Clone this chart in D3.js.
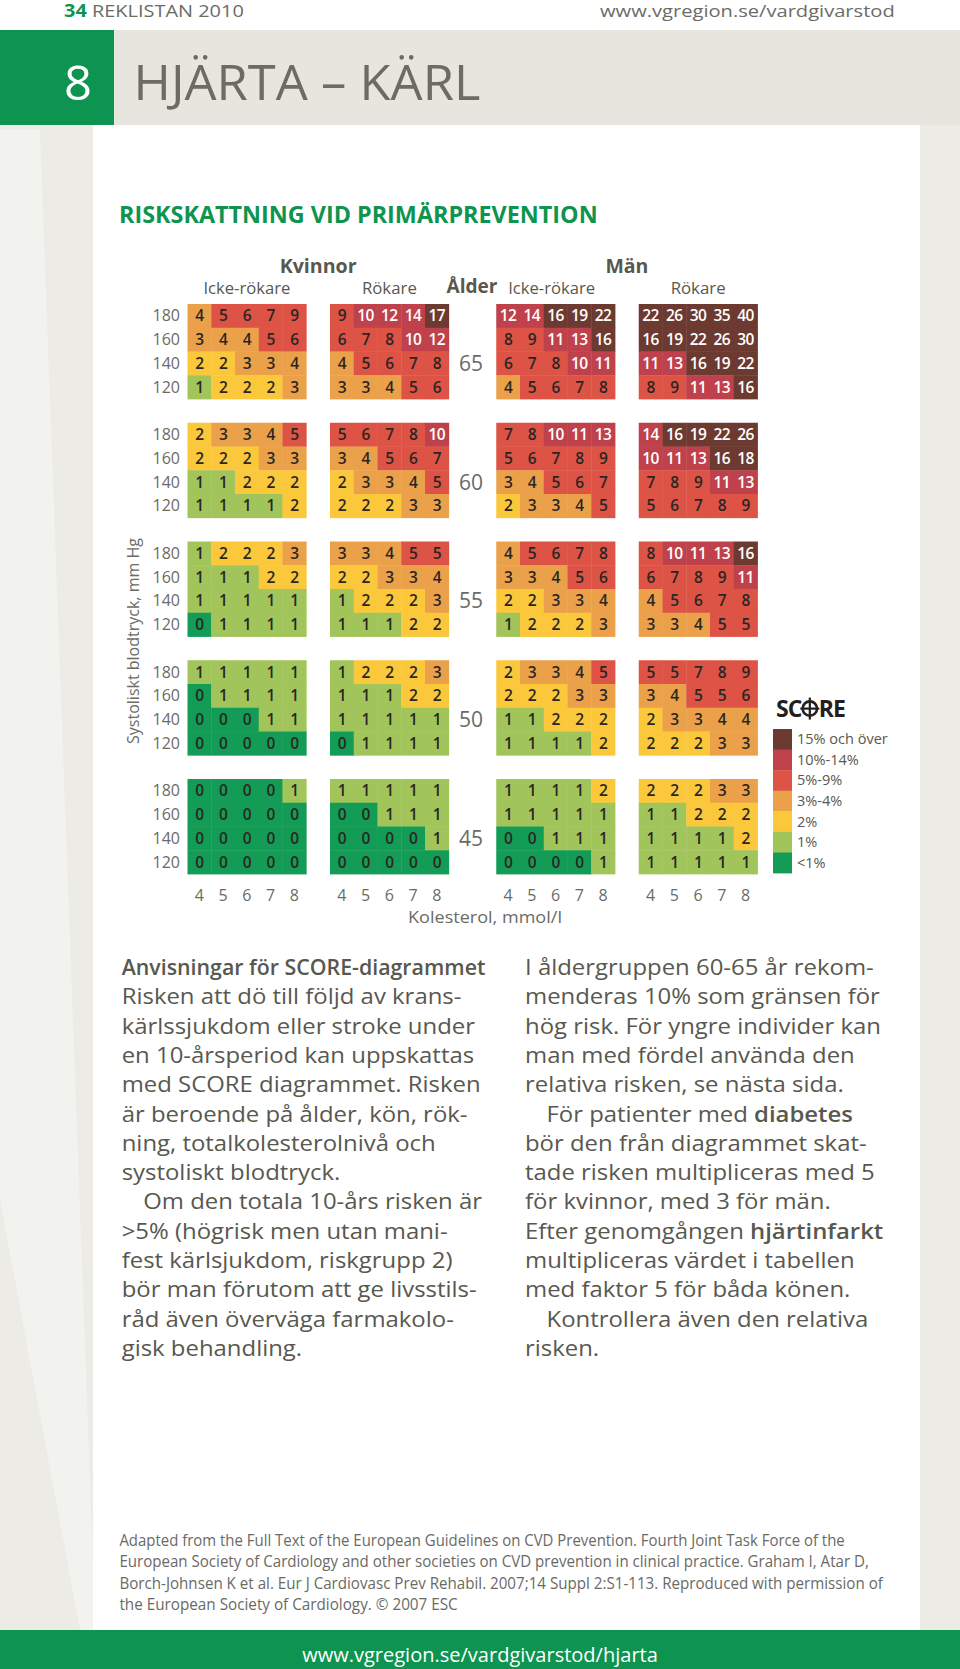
<!DOCTYPE html>
<html><head><meta charset="utf-8">
<script src="https://cdn.jsdelivr.net/npm/d3@7"></script>
<style>
body{margin:0;background:#fff}
svg{display:block}
text{font-family:"Open Sans","Noto Sans",sans-serif}
</style>
</head><body>
<svg id="c" width="960" height="1669"></svg>
<script>
// ---------------- DATA ----------------
const ages = [65, 60, 55, 50, 45];
const bloodPressure = [180, 160, 140, 120];
const cholesterol = [4, 5, 6, 7, 8];

// rows: systolic 180,160,140,120 ; columns: cholesterol 4..8 ; one block per age 65..45
const womenNonSmoker = [
  [[4,5,6,7,9],[3,4,4,5,6],[2,2,3,3,4],[1,2,2,2,3]],
  [[2,3,3,4,5],[2,2,2,3,3],[1,1,2,2,2],[1,1,1,1,2]],
  [[1,2,2,2,3],[1,1,1,2,2],[1,1,1,1,1],[0,1,1,1,1]],
  [[1,1,1,1,1],[0,1,1,1,1],[0,0,0,1,1],[0,0,0,0,0]],
  [[0,0,0,0,1],[0,0,0,0,0],[0,0,0,0,0],[0,0,0,0,0]]
];
const womenSmoker = [
  [[9,10,12,14,17],[6,7,8,10,12],[4,5,6,7,8],[3,3,4,5,6]],
  [[5,6,7,8,10],[3,4,5,6,7],[2,3,3,4,5],[2,2,2,3,3]],
  [[3,3,4,5,5],[2,2,3,3,4],[1,2,2,2,3],[1,1,1,2,2]],
  [[1,2,2,2,3],[1,1,1,2,2],[1,1,1,1,1],[0,1,1,1,1]],
  [[1,1,1,1,1],[0,0,1,1,1],[0,0,0,0,1],[0,0,0,0,0]]
];
const menNonSmoker = [
  [[12,14,16,19,22],[8,9,11,13,16],[6,7,8,10,11],[4,5,6,7,8]],
  [[7,8,10,11,13],[5,6,7,8,9],[3,4,5,6,7],[2,3,3,4,5]],
  [[4,5,6,7,8],[3,3,4,5,6],[2,2,3,3,4],[1,2,2,2,3]],
  [[2,3,3,4,5],[2,2,2,3,3],[1,1,2,2,2],[1,1,1,1,2]],
  [[1,1,1,1,2],[1,1,1,1,1],[0,0,1,1,1],[0,0,0,0,1]]
];
const menSmoker = [
  [[22,26,30,35,40],[16,19,22,26,30],[11,13,16,19,22],[8,9,11,13,16]],
  [[14,16,19,22,26],[10,11,13,16,18],[7,8,9,11,13],[5,6,7,8,9]],
  [[8,10,11,13,16],[6,7,8,9,11],[4,5,6,7,8],[3,3,4,5,5]],
  [[5,5,7,8,9],[3,4,5,5,6],[2,3,3,4,4],[2,2,2,3,3]],
  [[2,2,2,3,3],[1,1,2,2,2],[1,1,1,1,2],[1,1,1,1,1]]
];
const groupLabels = ["Icke-rökare", "Rökare", "Icke-rökare", "Rökare"];
const sexLabels = ["Kvinnor", "Män"];

const riskThresholds = [1, 2, 3, 5, 10, 15];
const riskColors = ["#139c55", "#a2c55b", "#fbc83c", "#eba14a", "#dd5446", "#bf414b", "#6c3a30"];
const legendLabels = ["15% och över", "10%-14%", "5%-9%", "3%-4%", "2%", "1%", "<1%"];

const leftText = [
  [["Anvisningar för SCORE-diagrammet", 1]],
  [["Risken att dö till följd av krans-"]],
  [["kärlssjukdom eller stroke under"]],
  [["en 10-årsperiod kan uppskattas"]],
  [["med SCORE diagrammet. Risken"]],
  [["är beroende på ålder, kön, rök-"]],
  [["ning, totalkolesterolnivå och"]],
  [["systoliskt blodtryck."]],
  [["Om den totala 10-års risken är"]],
  [[">5% (högrisk men utan mani-"]],
  [["fest kärlsjukdom, riskgrupp 2)"]],
  [["bör man förutom att ge livsstils-"]],
  [["råd även överväga farmakolo-"]],
  [["gisk behandling."]]
];
const leftIndent = [8];
const rightText = [
  [["I åldergruppen 60-65 år rekom-"]],
  [["menderas 10% som gränsen för"]],
  [["hög risk. För yngre individer kan"]],
  [["man med fördel använda den"]],
  [["relativa risken, se nästa sida."]],
  [["För patienter med "], ["diabetes", 1]],
  [["bör den från diagrammet skat-"]],
  [["tade risken multipliceras med 5"]],
  [["för kvinnor, med 3 för män."]],
  [["Efter genomgången "], ["hjärtinfarkt", 1]],
  [["multipliceras värdet i tabellen"]],
  [["med faktor 5 för båda könen."]],
  [["Kontrollera även den relativa"]],
  [["risken."]]
];
const rightIndent = [5, 12];
const citation = [
  "Adapted from the Full Text of the European Guidelines on CVD Prevention. Fourth Joint Task Force of the",
  "European Society of Cardiology and other societies on CVD prevention in clinical practice. Graham I, Atar D,",
  "Borch-Johnsen K et al.  Eur J Cardiovasc Prev Rehabil. 2007;14 Suppl 2:S1-113. Reproduced with permission of",
  "the European Society of Cardiology. © 2007 ESC"
];

// ---------------- DRAW ----------------
const svg = d3.select("#c");
const GRAY = "#58584f";
const GREEN = "#0f9450";

function txt(parent, str, x, y, o = {}) {
  const t = parent.append("text")
    .attr("font-size", o.size || 16)
    .attr("fill", o.fill || GRAY)
    .attr("font-weight", o.weight || 400)
    .attr("text-anchor", o.anchor || "start")
    .text(str);
  let s = 1;
  if (o.w) s = o.w / t.node().getComputedTextLength();
  t.attr("transform", `translate(${x},${y}) scale(${s},1)` + (o.rot ? ` rotate(${o.rot})` : ""));
  return t;
}

// backgrounds
svg.append("rect").attr("x", 0).attr("y", 0).attr("width", 960).attr("height", 1669).attr("fill", "#ecebe6");
svg.append("polygon").attr("points", "0,130 40,130 93,1560 93,1630 80,1630 0,1200").attr("fill", "#f2f2ee");
svg.append("rect").attr("x", 0).attr("y", 0).attr("width", 960).attr("height", 30).attr("fill", "#ffffff");
svg.append("rect").attr("x", 93).attr("y", 125).attr("width", 827).attr("height", 1505).attr("fill", "#ffffff");
svg.append("rect").attr("x", 114).attr("y", 30).attr("width", 846).attr("height", 95).attr("fill", "#e6e5de");
svg.append("rect").attr("x", 0).attr("y", 30).attr("width", 114).attr("height", 95).attr("fill", "#0c9450");
svg.append("rect").attr("x", 0).attr("y", 1630).attr("width", 960).attr("height", 39).attr("fill", "#0c9450");

// header
const headTxt = svg.append("text").attr("font-size", 17).attr("fill", "#6b6b66");
headTxt.append("tspan").attr("font-weight", 700).attr("fill", GREEN).text("34");
headTxt.append("tspan").text(" REKLISTAN 2010");
headTxt.attr("transform", `translate(64,17) scale(${180 / headTxt.node().getComputedTextLength()},1)`);
txt(svg, "www.vgregion.se/vardgivarstod", 600, 17, {size: 17, fill: "#6b6b66", w: 295});
txt(svg, "8", 78, 100, {size: 48, fill: "#ffffff", anchor: "middle", w: 28});
txt(svg, "HJÄRTA – KÄRL", 133.5, 100, {size: 49, fill: "#6d6b62", w: 347});
txt(svg, "RISKSKATTNING VID PRIMÄRPREVENTION", 119, 223, {size: 23, fill: GREEN, weight: 700, w: 479});

// grid scales
const c = 23.75, x0 = 187.5, y0 = 304;
const groups = [womenNonSmoker, womenSmoker, menNonSmoker, menSmoker];
const panelX = d3.scaleOrdinal().domain(d3.range(4)).range([0, 6, 13, 19].map(s => x0 + s * c));
const xChol = d3.scaleBand().domain(cholesterol).range([0, 5 * c]);
const yAge = d3.scaleBand().domain(ages).range([y0, y0 + 24 * c]).paddingInner(0.2);
const yBp = d3.scaleBand().domain(bloodPressure).range([0, yAge.bandwidth()]);
const color = d3.scaleThreshold().domain(riskThresholds).range(riskColors);

const cells = [];
groups.forEach((g, gi) => g.forEach((block, ai) => block.forEach((row, ri) => row.forEach((v, ci) => {
  cells.push({gi, age: ages[ai], bp: bloodPressure[ri], chol: cholesterol[ci], v});
}))));

const gCells = svg.append("g");
gCells.selectAll("rect").data(cells).join("rect")
  .attr("x", d => panelX(d.gi) + xChol(d.chol))
  .attr("y", d => yAge(d.age) + yBp(d.bp))
  .attr("width", xChol.bandwidth() + 0.4)
  .attr("height", yBp.bandwidth() + 0.4)
  .attr("fill", d => color(d.v));
gCells.selectAll("text").data(cells).join("text")
  .attr("x", d => panelX(d.gi) + xChol(d.chol) + xChol.bandwidth() / 2)
  .attr("y", d => yAge(d.age) + yBp(d.bp) + yBp.bandwidth() / 2)
  .attr("dy", "0.36em")
  .attr("text-anchor", "middle")
  .attr("font-size", 15.5)
  .attr("font-weight", 600)
  .attr("letter-spacing", -0.6)
  .attr("fill", d => d.v >= 10 ? "#ffffff" : "#2a2623")
  .text(d => d.v);

// row labels & age labels
ages.forEach(a => {
  bloodPressure.forEach(bp => {
    txt(svg, String(bp), 180, yAge(a) + yBp(bp) + yBp.bandwidth() / 2 + 5.5, {size: 16, fill: "#6b6b66", anchor: "end"});
  });
  txt(svg, String(a), 471, yAge(a) + yBp(140) + yBp.bandwidth() / 2 + 7.5, {size: 21, fill: "#6b6b66", anchor: "middle"});
});
// cholesterol ticks
d3.range(4).forEach(gi => cholesterol.forEach(ch => {
  txt(svg, String(ch), panelX(gi) + xChol(ch) + xChol.bandwidth() / 2, 900.5, {size: 16, fill: "#6b6b66", anchor: "middle"});
}));
txt(svg, "Kolesterol, mmol/l", 485, 923, {size: 16, fill: "#6b6b66", anchor: "middle", w: 154});
txt(svg, "Systoliskt blodtryck, mm Hg", 139, 641, {size: 16, fill: "#6b6b66", anchor: "middle", rot: -90});

// column headers
const pc = gi => panelX(gi) + 2.5 * c;
txt(svg, sexLabels[0], (pc(0) + pc(1)) / 2, 272.5, {size: 20, weight: 700, anchor: "middle", w: 77});
txt(svg, sexLabels[1], (pc(2) + pc(3)) / 2, 272.5, {size: 20, weight: 700, anchor: "middle", w: 43});
groupLabels.forEach((l, gi) => txt(svg, l, pc(gi) - (gi === 2 ? 4 : 0), 294, {size: 16, anchor: "middle", w: l.length > 7 ? 87 : 55}));
txt(svg, "Ålder", 472, 293, {size: 20, weight: 700, anchor: "middle", w: 51});

// legend
const lg = svg.append("g");
const sc = lg.append("text").attr("x", 776).attr("y", 717).attr("font-size", 23).attr("font-weight", 700).attr("fill", "#231f20").attr("letter-spacing", -1).text("SC");
const scW = sc.node().getComputedTextLength();
const ox = 776 + scW + 8.5, oy = 708.6;
lg.append("circle").attr("cx", ox).attr("cy", oy).attr("r", 7.2).attr("fill", "none").attr("stroke", "#231f20").attr("stroke-width", 2.6);
lg.append("line").attr("x1", ox).attr("x2", ox).attr("y1", oy - 11).attr("y2", oy + 11).attr("stroke", "#231f20").attr("stroke-width", 2.2);
lg.append("line").attr("x1", ox - 9.5).attr("x2", ox + 9.5).attr("y1", oy).attr("y2", oy).attr("stroke", "#231f20").attr("stroke-width", 2.2);
lg.append("text").attr("x", ox + 9).attr("y", 717).attr("font-size", 23).attr("font-weight", 700).attr("fill", "#231f20").attr("letter-spacing", -1).text("RE");

const yLeg = d3.scaleBand().domain(legendLabels).range([729, 873]);
const legColors = riskColors.slice().reverse();
lg.selectAll("rect.sw").data(legendLabels).join("rect").attr("class", "sw")
  .attr("x", 773).attr("width", 19)
  .attr("y", d => yLeg(d)).attr("height", yLeg.bandwidth() + 0.4)
  .attr("fill", (d, i) => legColors[i]);
legendLabels.forEach(l => txt(lg, l, 797, yLeg(l) + yLeg.bandwidth() / 2 + 5, {size: 14.5}));

// body text
function bodyCol(lines, x, indents) {
  const g = svg.append("g");
  return lines.map((segs, i) => {
    const t = g.append("text").attr("font-size", 22).attr("fill", GRAY);
    segs.forEach(s => t.append("tspan").attr("font-weight", s[1] ? 600 : 400).text(s[0]));
    t.datum({x: x + (indents.includes(i) ? 21.5 : 0), y: 975 + i * 29.3});
    return t;
  });
}
const L = bodyCol(leftText, 121.7, leftIndent);
const R = bodyCol(rightText, 525, rightIndent);
const calib = [[L[1], 340], [L[2], 349], [L[4], 358], [R[0], 350], [R[2], 360]];
const sx = d3.sum(calib, d => d[1]) / d3.sum(calib, d => d[0].node().getComputedTextLength());
L.concat(R).forEach((t, i) => {
  const d = t.datum();
  const s = i === 0 ? 364 / t.node().getComputedTextLength() : sx;
  t.attr("transform", `translate(${d.x},${d.y}) scale(${s},1)`);
});

// citation
const citW = [725.6, 750, 764, 338.6];
citation.forEach((l, i) => txt(svg, l, 119.4, 1545.7 + i * 21.4, {size: 17, fill: "#6a6a65", w: citW[i]}));

// footer
txt(svg, "www.vgregion.se/vardgivarstod/hjarta", 480, 1662, {size: 20, fill: "#ffffff", anchor: "middle", w: 356});
</script>
</body></html>
